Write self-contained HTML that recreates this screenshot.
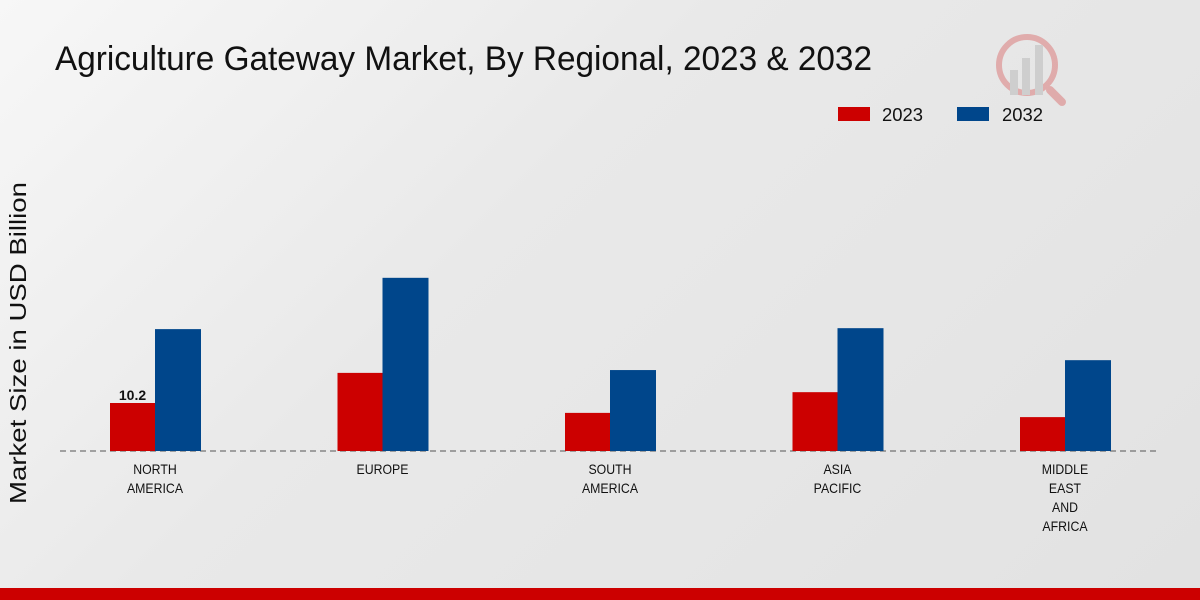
<!DOCTYPE html>
<html><head><meta charset="utf-8"><style>
html,body{margin:0;padding:0;width:1200px;height:600px;overflow:hidden;}
body{background:linear-gradient(135deg,#f7f7f7 0%,#e9e9e9 40%,#e2e2e2 100%);font-family:"Liberation Sans",sans-serif;}
</style></head><body>
<svg width="1200" height="600" xmlns="http://www.w3.org/2000/svg">
<text x="55" y="70" font-size="34" fill="#111" textLength="817" lengthAdjust="spacingAndGlyphs">Agriculture Gateway Market, By Regional, 2023 &amp; 2032</text>
<g opacity="0.25">
<circle cx="1027" cy="65" r="28" fill="none" stroke="#c00" stroke-width="6"/>
<rect x="1010" y="70" width="8" height="25" fill="#888"/><rect x="1022" y="58" width="8" height="37" fill="#888"/><rect x="1035" y="45" width="8" height="50" fill="#888"/>
<line x1="1050" y1="90" x2="1062" y2="102" stroke="#c00" stroke-width="8" stroke-linecap="round"/>
</g>
<g>
<rect x="838" y="107" width="32" height="14" fill="#cc0000"/>
<text x="882" y="121" font-size="18" fill="#111" textLength="41" lengthAdjust="spacingAndGlyphs">2023</text>
<rect x="957" y="107" width="32" height="14" fill="#00468b"/>
<text x="1002" y="121" font-size="18" fill="#111" textLength="41" lengthAdjust="spacingAndGlyphs">2032</text>
</g>
<text transform="translate(26,343) rotate(-90)" text-anchor="middle" font-size="23" fill="#111" textLength="322" lengthAdjust="spacingAndGlyphs">Market Size in USD Billion</text>
<line x1="60" y1="451" x2="1160" y2="451" stroke="#555" stroke-dasharray="6,4"/>
<g id="bars"></g>
<rect x="0" y="588" width="1200" height="12" fill="#cc0000"/>
</svg>
<script>
const categories=[["NORTH","AMERICA"],["EUROPE"],["SOUTH","AMERICA"],["ASIA","PACIFIC"],["MIDDLE","EAST","AND","AFRICA"]];
const values2023=[10.2,16.6,8.1,12.5,7.2];
const values2032=[25.9,36.8,17.2,26.1,19.3];
const baseY=451, scale=4.706, x0=155, step=227.5, bw=45;
const ns="http://www.w3.org/2000/svg";
const g=document.getElementById('bars');
function y(v){return baseY-v*scale;}
categories.forEach((c,i)=>{
  const cx=x0+i*step;
  const r=document.createElementNS(ns,'rect');
  r.setAttribute('x',cx-bw);r.setAttribute('y',y(values2023[i]));r.setAttribute('width',bw);r.setAttribute('height',baseY-y(values2023[i]));r.setAttribute('fill','#cc0000');
  
  
  g.appendChild(r);
  const b=document.createElementNS(ns,'rect');
  b.setAttribute('x',cx);b.setAttribute('y',y(values2032[i]));b.setAttribute('width',bw+1);b.setAttribute('height',baseY-y(values2032[i]));b.setAttribute('fill','#00468b');
  
  
  g.appendChild(b);
  c.forEach((line,j)=>{
    const t=document.createElementNS(ns,'text');
    t.setAttribute('x',cx);t.setAttribute('y',474+j*19);t.setAttribute('text-anchor','middle');t.setAttribute('font-size','14');t.setAttribute('fill','#111');
    t.setAttribute('transform','translate('+cx+',0) scale(0.88,1) translate('+(-cx)+',0)');
    
    
    t.textContent=line;g.appendChild(t);
  });
});
const lbl=document.createElementNS(ns,'text');
lbl.setAttribute('x',x0-bw/2);lbl.setAttribute('y',y(values2023[0])-3);lbl.setAttribute('text-anchor','middle');lbl.setAttribute('font-size','14');lbl.setAttribute('font-weight','bold');lbl.setAttribute('fill','#111');


lbl.textContent=values2023[0].toFixed(1);g.appendChild(lbl);
</script>
</body></html>
